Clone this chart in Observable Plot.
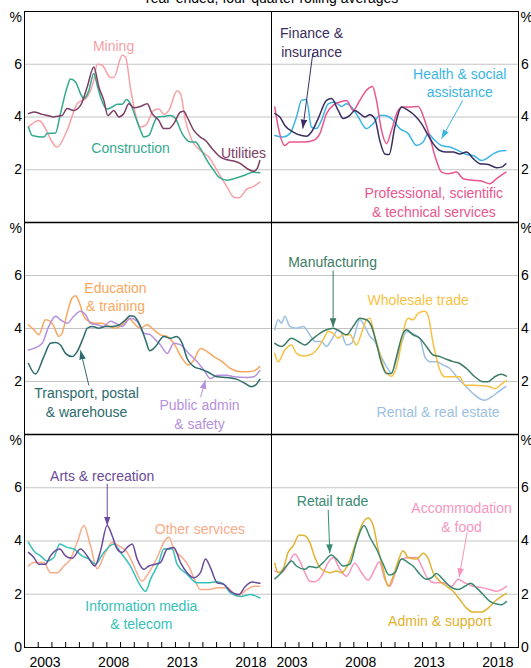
<!DOCTYPE html>
<html>
<head>
<meta charset="utf-8">
<script src="https://cdn.jsdelivr.net/npm/d3@7"></script>
<script src="https://cdn.jsdelivr.net/npm/@observablehq/plot@0.6"></script>
<style>
  html, body { margin: 0; padding: 0; background: #fff; }
  #chart { position: relative; width: 531px; height: 668px; overflow: hidden; font-family: "Liberation Sans", Arial, sans-serif; }
  #title { position: absolute; left: 0; width: 541px; top: -10px; line-height: 16px; text-align: center; font-size: 14px; color: #000; white-space: nowrap; }
  .panel { position: absolute; }
  .panel svg { overflow: visible; }
</style>
</head>
<body>
<div id="chart"><div id="title">Year-ended, four-quarter rolling averages</div></div>
<script>
// ---------- data: [year, per cent] ----------
const mining = [[2002.29,3.62],[2003.04,3.87],[2004.38,2.86],[2005.11,3.5],[2005.84,4.5],[2006.57,4.76],[2007.05,5.4],[2007.30,6.0],[2007.66,5.96],[2008.27,5.5],[2008.51,5.5],[2009.12,6.34],[2009.36,6.28],[2009.72,5.1],[2010.21,3.87],[2010.45,3.62],[2010.82,3.68],[2011.42,4.25],[2011.79,4.3],[2012.15,4.1],[2012.52,4.25],[2013.12,5.0],[2013.37,4.88],[2013.73,3.87],[2014.22,3.1],[2014.82,2.73],[2015.43,2.48],[2016.04,1.97],[2016.77,1.34],[2017.25,0.96],[2017.62,0.94],[2018.23,1.28],[2018.59,1.34],[2019.15,1.53]];
const construction = [[2002.29,3.62],[2002.56,3.3],[2003.41,3.24],[2003.65,3.37],[2004.26,3.39],[2004.62,4.13],[2005.11,5.14],[2005.35,5.44],[2005.72,5.33],[2006.08,4.89],[2006.32,4.7],[2006.69,5.0],[2007.05,5.65],[2007.30,5.2],[2007.54,4.76],[2008.02,4.3],[2008.39,4.38],[2008.75,4.48],[2009.12,4.48],[2009.43,4.66],[2009.72,4.5],[2010.09,4.0],[2010.45,3.5],[2010.70,3.24],[2011.06,3.3],[2011.42,3.75],[2011.67,4.0],[2012.27,4.03],[2012.64,4.06],[2013.00,3.94],[2013.49,3.37],[2014.10,3.05],[2014.46,3.05],[2014.82,2.8],[2015.31,2.35],[2015.80,1.97],[2016.16,1.72],[2016.77,1.6],[2017.25,1.66],[2017.98,1.78],[2018.71,1.91],[2019.15,1.89]];
const utilities = [[2002.29,4.13],[2002.68,4.19],[2003.29,4.1],[2003.65,4.06],[2004.14,4.0],[2004.38,4.03],[2004.74,4.06],[2005.11,4.32],[2005.59,4.25],[2006.08,4.44],[2006.57,5.14],[2007.05,5.9],[2007.42,5.14],[2007.78,4.63],[2008.07,4.06],[2008.51,4.25],[2008.87,4.0],[2009.24,4.13],[2009.60,4.5],[2009.97,4.35],[2010.45,4.4],[2010.94,4.5],[2011.30,4.13],[2011.79,3.87],[2012.15,3.56],[2012.52,3.56],[2012.88,3.75],[2013.37,4.19],[2013.61,4.22],[2013.85,4.0],[2014.34,3.49],[2014.82,3.24],[2015.19,3.11],[2015.68,2.8],[2016.28,2.48],[2016.77,2.38],[2017.25,2.33],[2017.74,2.23],[2018.23,2.04],[2018.71,1.94],[2018.95,2.04],[2019.15,2.35]];
const finance = [[2002.24,4.13],[2002.61,4.0],[2002.97,3.68],[2003.58,3.43],[2004.19,3.3],[2004.55,3.27],[2004.91,3.43],[2005.40,3.94],[2006.01,4.63],[2006.37,4.7],[2006.86,4.25],[2007.22,3.94],[2007.71,4.06],[2008.07,4.25],[2008.44,4.13],[2008.80,4.0],[2009.17,4.09],[2009.53,3.94],[2009.89,3.11],[2010.26,2.6],[2010.57,2.58],[2010.99,3.62],[2011.47,4.38],[2011.96,4.25],[2012.44,4.06],[2012.93,3.75],[2013.42,3.3],[2013.78,2.99],[2014.27,2.73],[2014.75,2.67],[2015.24,2.67],[2015.72,2.6],[2016.21,2.67],[2016.70,2.42],[2017.18,2.23],[2017.79,2.2],[2018.40,2.08],[2018.76,2.1],[2019.08,2.23]];
const health = [[2002.24,3.3],[2002.85,3.24],[2003.34,3.37],[2003.82,4.0],[2004.19,4.63],[2004.55,4.66],[2004.91,3.62],[2005.28,3.56],[2005.64,3.87],[2006.13,4.5],[2006.62,4.57],[2007.10,4.4],[2007.47,4.5],[2007.83,4.38],[2008.32,4.0],[2008.92,3.56],[2009.41,3.75],[2009.89,4.06],[2010.26,4.06],[2010.74,3.94],[2011.35,3.56],[2011.96,3.37],[2012.57,2.92],[2013.05,3.05],[2013.42,3.37],[2013.78,3.18],[2014.39,2.92],[2015.00,2.86],[2015.60,2.73],[2016.21,2.58],[2016.70,2.54],[2017.30,2.35],[2017.67,2.42],[2018.15,2.6],[2018.64,2.71],[2019.08,2.73]];
const professional = [[2002.24,4.38],[2002.49,3.62],[2002.97,2.92],[2003.34,3.05],[2003.82,3.05],[2004.31,3.05],[2005.04,3.11],[2005.52,3.37],[2006.01,4.13],[2006.49,4.44],[2006.98,4.57],[2007.47,4.63],[2007.95,4.25],[2008.44,4.63],[2008.92,5.01],[2009.36,5.16],[2009.65,4.63],[2010.02,3.49],[2010.38,2.99],[2010.74,3.49],[2011.23,4.25],[2011.59,4.38],[2012.08,4.38],[2012.69,4.4],[2013.17,3.87],[2013.54,3.24],[2013.90,2.54],[2014.39,1.91],[2014.87,1.85],[2015.48,1.91],[2015.97,1.66],[2016.70,1.6],[2017.30,1.57],[2017.91,1.47],[2018.40,1.66],[2019.08,1.91]];
const education = [[2002.29,4.14],[2002.68,3.95],[2003.04,3.76],[2003.53,4.33],[2003.89,4.27],[2004.14,4.08],[2004.50,3.7],[2004.74,3.82],[2005.11,4.58],[2005.47,5.15],[2005.72,5.24],[2005.96,5.03],[2006.32,4.46],[2006.69,4.27],[2007.17,4.2],[2007.66,4.2],[2008.15,4.08],[2008.63,4.01],[2009.12,4.14],[2009.60,4.39],[2009.97,4.2],[2010.45,4.01],[2010.94,4.14],[2011.42,3.95],[2011.91,3.76],[2012.40,3.7],[2012.88,3.44],[2013.49,2.87],[2013.97,2.62],[2014.34,2.81],[2014.82,3.25],[2015.31,3.13],[2015.80,2.94],[2016.40,2.75],[2017.01,2.49],[2017.74,2.37],[2018.35,2.37],[2018.83,2.43],[2019.15,2.56]];
const publicAdmin = [[2002.29,3.19],[2002.68,3.25],[2003.29,3.44],[2003.77,4.08],[2004.26,4.46],[2004.62,4.33],[2005.11,4.2],[2005.59,4.46],[2006.08,4.65],[2006.45,4.52],[2006.81,4.2],[2007.30,4.14],[2007.78,4.08],[2008.27,4.27],[2008.63,4.2],[2009.12,4.08],[2009.72,4.39],[2010.21,4.27],[2010.70,3.82],[2011.18,3.76],[2011.55,3.57],[2011.91,3.38],[2012.40,3.06],[2012.88,3.44],[2013.37,3.38],[2013.97,3.06],[2014.58,2.75],[2015.07,2.43],[2015.55,2.11],[2016.04,2.24],[2016.77,2.24],[2017.25,2.18],[2018.23,2.15],[2018.71,2.18],[2019.15,2.41]];
const transport = [[2002.29,2.68],[2002.80,2.28],[2003.41,2.94],[2003.89,3.44],[2004.26,3.47],[2004.62,3.38],[2004.99,3.06],[2005.47,2.94],[2005.84,3.13],[2006.32,3.7],[2006.57,4.01],[2006.93,4.08],[2007.42,4.01],[2007.90,4.08],[2008.39,4.08],[2008.75,4.1],[2009.24,4.27],[2009.72,4.48],[2009.97,4.46],[2010.45,4.08],[2010.82,3.57],[2011.13,3.16],[2011.55,3.32],[2012.15,3.7],[2012.64,3.63],[2013.08,3.7],[2013.49,3.44],[2013.85,2.87],[2014.34,2.56],[2014.82,2.47],[2015.31,2.37],[2016.04,2.18],[2016.77,2.15],[2017.50,2.08],[2018.10,1.92],[2018.52,1.8],[2018.83,1.86],[2019.15,2.08]];
const manufacturing = [[2002.24,3.44],[2002.73,3.32],[2003.46,3.63],[2003.94,3.51],[2004.43,3.38],[2004.91,3.57],[2005.52,3.82],[2006.01,3.95],[2006.49,4.01],[2006.98,3.89],[2007.47,3.76],[2007.95,4.08],[2008.44,4.39],[2008.92,4.33],[2009.29,4.08],[2009.65,3.44],[2010.02,2.68],[2010.38,2.3],[2010.74,2.3],[2011.11,2.94],[2011.59,3.82],[2011.84,3.95],[2012.32,3.76],[2012.81,3.63],[2013.29,3.32],[2013.78,3.0],[2014.27,2.94],[2014.75,2.84],[2015.24,2.75],[2015.72,2.68],[2016.21,2.49],[2016.82,2.18],[2017.42,1.99],[2017.79,1.99],[2018.27,2.18],[2018.76,2.27],[2019.12,2.2]];
const wholesale = [[2002.24,3.06],[2002.49,2.75],[2002.97,3.19],[2003.46,3.38],[2003.82,3.06],[2004.31,2.96],[2004.79,3.0],[2005.28,3.19],[2005.76,3.57],[2006.13,3.89],[2006.49,3.82],[2006.86,3.63],[2007.22,3.76],[2007.71,3.76],[2008.19,3.38],[2008.56,3.82],[2008.92,4.33],[2009.17,4.39],[2009.53,3.7],[2009.89,3.06],[2010.26,2.43],[2010.74,2.2],[2011.11,2.56],[2011.47,3.44],[2011.72,4.14],[2011.96,4.39],[2012.32,4.33],[2012.69,4.58],[2013.17,4.65],[2013.42,4.46],[2013.78,3.44],[2014.27,2.43],[2014.63,2.18],[2015.12,2.18],[2015.72,2.18],[2016.09,1.86],[2016.70,1.86],[2017.42,1.84],[2017.91,1.8],[2018.27,1.73],[2018.76,1.9],[2019.12,2.03]];
const rental = [[2002.24,3.95],[2002.49,4.33],[2002.73,4.2],[2002.97,4.46],[2003.34,4.08],[2003.82,4.01],[2004.31,4.08],[2004.79,3.76],[2005.16,3.51],[2005.64,3.51],[2006.01,3.32],[2006.37,3.57],[2006.86,3.95],[2007.10,3.82],[2007.47,3.38],[2007.83,3.44],[2008.44,4.33],[2008.80,4.08],[2009.17,3.7],[2009.53,3.51],[2009.89,3.06],[2010.38,2.56],[2010.74,2.33],[2011.11,2.81],[2011.47,3.44],[2011.84,3.89],[2012.20,3.82],[2012.81,3.63],[2013.17,2.94],[2013.54,2.75],[2014.02,2.75],[2014.51,2.62],[2015.00,2.49],[2015.60,2.11],[2016.09,1.86],[2016.70,1.54],[2017.18,1.35],[2017.55,1.29],[2018.03,1.42],[2018.52,1.61],[2019.08,1.82]];
const arts = [[2002.29,3.57],[2002.68,3.38],[2003.04,3.13],[2003.53,3.13],[2003.89,3.44],[2004.57,3.7],[2004.99,3.44],[2005.47,3.35],[2006.08,3.7],[2006.57,3.44],[2007.13,3.06],[2007.54,3.63],[2008.02,4.58],[2008.39,4.2],[2008.75,3.7],[2009.12,3.57],[2009.48,3.76],[2009.85,3.89],[2010.21,3.32],[2010.70,2.94],[2011.06,3.06],[2011.55,3.13],[2011.91,3.19],[2012.40,3.7],[2012.88,3.76],[2013.37,3.19],[2013.85,2.81],[2014.34,2.62],[2014.82,2.81],[2015.19,3.32],[2015.55,3.0],[2016.04,2.43],[2016.53,2.37],[2017.01,2.11],[2017.62,1.99],[2018.10,2.3],[2018.59,2.46],[2019.15,2.41]];
const otherServices = [[2002.29,3.06],[2002.68,3.19],[2003.41,3.19],[2003.89,2.81],[2004.38,2.81],[2004.87,3.06],[2005.35,3.32],[2005.84,3.95],[2006.32,4.58],[2006.81,3.82],[2007.30,2.96],[2007.90,3.57],[2008.39,3.95],[2008.87,3.82],[2009.48,3.57],[2009.97,3.06],[2010.57,2.49],[2011.06,2.81],[2011.67,3.38],[2012.15,3.95],[2012.52,4.14],[2012.88,3.7],[2013.49,3.38],[2013.97,3.06],[2014.34,2.62],[2014.82,2.18],[2015.43,2.18],[2016.04,2.24],[2016.77,2.24],[2017.50,1.92],[2018.23,2.18],[2018.71,2.3],[2019.15,2.3]];
const infoMedia = [[2002.29,3.95],[2002.68,3.63],[2003.17,3.44],[2003.65,3.25],[2004.14,3.38],[2004.57,3.89],[2005.11,3.76],[2005.59,3.7],[2006.20,3.44],[2006.69,3.32],[2007.17,3.13],[2007.78,3.57],[2008.51,3.89],[2009.00,3.57],[2009.72,3.06],[2010.33,2.43],[2010.82,2.11],[2011.18,2.56],[2011.79,3.19],[2012.15,3.7],[2012.76,3.7],[2013.12,3.13],[2013.85,2.75],[2014.58,2.43],[2015.31,2.43],[2016.04,2.47],[2016.53,2.37],[2017.01,2.05],[2017.74,1.92],[2018.47,1.99],[2019.15,1.86]];
const retail = [[2002.24,2.58],[2002.61,2.75],[2003.09,3.06],[2003.46,3.25],[2003.82,3.06],[2004.43,2.94],[2004.79,3.04],[2005.28,3.0],[2005.76,3.19],[2006.37,3.47],[2006.74,3.32],[2007.22,3.06],[2007.71,3.13],[2008.19,3.95],[2008.75,4.58],[2009.17,4.14],[2009.65,3.7],[2010.14,3.13],[2010.57,2.72],[2010.99,2.81],[2011.47,3.32],[2011.96,3.19],[2012.32,3.06],[2012.81,2.75],[2013.29,2.56],[2013.66,2.62],[2014.02,2.78],[2014.39,2.62],[2015.00,2.3],[2015.60,2.18],[2016.09,2.3],[2016.50,2.41],[2016.94,2.24],[2017.42,1.99],[2017.91,1.73],[2018.40,1.63],[2018.76,1.61],[2019.12,1.73]];
const adminSupport = [[2002.24,3.16],[2002.49,2.81],[2002.85,2.96],[2003.21,3.57],[2003.58,3.82],[2004.02,4.23],[2004.43,4.2],[2004.79,3.95],[2005.16,3.38],[2005.64,2.94],[2006.25,2.81],[2006.74,2.87],[2007.10,2.81],[2007.59,3.13],[2008.07,3.82],[2008.56,4.58],[2009.04,4.86],[2009.41,4.58],[2009.77,3.7],[2010.14,2.94],[2010.50,2.3],[2010.87,2.68],[2011.23,3.25],[2011.59,3.63],[2011.96,3.38],[2012.57,3.32],[2013.05,3.54],[2013.42,3.34],[2013.78,2.81],[2014.27,2.49],[2014.75,2.3],[2015.24,2.11],[2015.72,1.8],[2016.21,1.48],[2016.70,1.33],[2017.30,1.33],[2017.79,1.48],[2018.27,1.73],[2018.76,1.92],[2019.12,2.03]];
const accommodation = [[2002.24,2.87],[2002.73,2.81],[2003.21,3.13],[2003.70,3.51],[2004.06,3.25],[2004.43,2.81],[2004.79,2.49],[2005.16,2.47],[2005.64,2.68],[2006.13,3.19],[2006.49,3.38],[2006.98,2.94],[2007.47,2.68],[2008.07,3.16],[2008.56,2.81],[2009.04,2.53],[2009.53,2.94],[2009.85,3.22],[2010.26,2.56],[2010.62,2.3],[2011.11,2.94],[2011.47,3.32],[2012.08,3.38],[2012.57,3.38],[2012.93,3.06],[2013.42,2.56],[2013.90,2.43],[2014.51,2.43],[2015.12,2.3],[2015.60,2.56],[2016.09,2.43],[2016.70,2.3],[2017.42,2.24],[2017.91,2.18],[2018.40,2.11],[2018.76,2.18],[2019.12,2.3]];

// series per panel (left-to-right, top-to-bottom)
const panelSeries = [
  [["Mining", mining], ["Construction", construction], ["Utilities", utilities]],
  [["Health & social assistance", health], ["Professional, scientific & technical services", professional], ["Finance & insurance", finance]],
  [["Education & training", education], ["Public admin & safety", publicAdmin], ["Transport, postal & warehouse", transport]],
  [["Rental & real estate", rental], ["Wholesale trade", wholesale], ["Manufacturing", manufacturing]],
  [["Other services", otherServices], ["Information media & telecom", infoMedia], ["Arts & recreation", arts]],
  [["Accommodation & food", accommodation], ["Admin & support", adminSupport], ["Retail trade", retail]]
];

// colours (styles kept apart from data)
const palette = new Map([
  ["Mining", "#f7a1a6"], ["Construction", "#33a98e"], ["Utilities", "#7d3e66"],
  ["Finance & insurance", "#3a2d60"], ["Health & social assistance", "#3cb5e6"], ["Professional, scientific & technical services", "#e9568e"],
  ["Education & training", "#f9a760"], ["Transport, postal & warehouse", "#2c6b6c"], ["Public admin & safety", "#b591dd"],
  ["Manufacturing", "#3d7b62"], ["Wholesale trade", "#f7c244"], ["Rental & real estate", "#9dbfe3"],
  ["Arts & recreation", "#6a4b9b"], ["Other services", "#f9ab88"], ["Information media & telecom", "#36c1b7"],
  ["Retail trade", "#3a8a73"], ["Accommodation & food", "#f895bf"], ["Admin & support", "#e1b22f"]
]);

// annotation labels (data coordinates)
const labels = [
  {panel: 0, series: "Mining", text: "Mining", t: 2008.49, v: 6.71},
  {panel: 0, series: "Construction", text: "Construction", t: 2009.73, v: 2.88},
  {panel: 0, series: "Utilities", text: "Utilities", t: 2017.96, v: 2.69},
  {panel: 1, series: "Finance & insurance", text: "Finance &\ninsurance", t: 2004.92, v: 6.87},
  {panel: 1, series: "Health & social assistance", text: "Health & social\nassistance", t: 2015.72, v: 5.32},
  {panel: 1, series: "Professional, scientific & technical services", text: "Professional, scientific\n& technical services", t: 2013.83, v: 0.79},
  {panel: 2, series: "Education & training", text: "Education\n& training", t: 2008.63, v: 5.23},
  {panel: 2, series: "Transport, postal & warehouse", text: "Transport, postal\n& warehouse", t: 2006.52, v: 1.24},
  {panel: 2, series: "Public admin & safety", text: "Public admin\n& safety", t: 2014.75, v: 0.78},
  {panel: 3, series: "Manufacturing", text: "Manufacturing", t: 2006.45, v: 6.54},
  {panel: 3, series: "Wholesale trade", text: "Wholesale trade", t: 2012.69, v: 5.12},
  {panel: 3, series: "Rental & real estate", text: "Rental & real estate", t: 2014.14, v: 0.87},
  {panel: 4, series: "Arts & recreation", text: "Arts & recreation", t: 2007.66, v: 6.46},
  {panel: 4, series: "Other services", text: "Other services", t: 2014.78, v: 4.48},
  {panel: 4, series: "Information media & telecom", text: "Information media\n& telecom", t: 2010.51, v: 1.25},
  {panel: 5, series: "Retail trade", text: "Retail trade", t: 2006.45, v: 5.52},
  {panel: 5, series: "Accommodation & food", text: "Accommodation\n& food", t: 2015.85, v: 4.91},
  {panel: 5, series: "Admin & support", text: "Admin & support", t: 2014.27, v: 1.05}
];

// pointer arrows (data coordinates)
const arrows = [
  {panel: 1, series: "Finance & insurance", t1: 2005.01, v1: 6.41, t2: 2004.28, v2: 3.56},
  {panel: 1, series: "Health & social assistance", t1: 2015.94, v1: 4.63, t2: 2014.39, v2: 3.18},
  {panel: 2, series: "Transport, postal & warehouse", t1: 2006.69, v1: 1.85, t2: 2006.08, v2: 3.17},
  {panel: 2, series: "Public admin & safety", t1: 2014.83, v1: 1.41, t2: 2015.19, v2: 2.06},
  {panel: 3, series: "Manufacturing", t1: 2006.49, v1: 6.19, t2: 2006.49, v2: 4.05},
  {panel: 4, series: "Arts & recreation", t1: 2008.03, v1: 6.15, t2: 2008.03, v2: 4.58},
  {panel: 5, series: "Retail trade", t1: 2006.13, v1: 5.17, t2: 2006.25, v2: 3.54},
  {panel: 5, series: "Accommodation & food", t1: 2016.26, v1: 4.33, t2: 2015.67, v2: 2.64}
];

const gridValues = [2, 4, 6];
const yTicksTop = [2, 4, 6];
const yTicksBottom = [0, 2, 4, 6];
const tickYears = d3.range(2003, 2020);
const yearLabels = [2003, 2008, 2013, 2018];

// ---------- layout ----------
const rowTops = [11, 222, 434];
const rowHeights = [211, 212, 213];
const colLefts = [0, 271];
const FONT = '"Liberation Sans", Arial, sans-serif';
let markerId = 0;

function addArrowHeads(svg) {
  const ns = "http://www.w3.org/2000/svg";
  const defs = document.createElementNS(ns, "defs");
  svg.insertBefore(defs, svg.firstChild);
  svg.querySelectorAll('g[aria-label="link"]').forEach((g) => {
    const color = g.getAttribute("stroke");
    const id = "ah" + (markerId++);
    const m = document.createElementNS(ns, "marker");
    m.setAttribute("id", id);
    m.setAttribute("viewBox", "0 -3.5 9 7");
    m.setAttribute("refX", "9");
    m.setAttribute("refY", "0");
    m.setAttribute("markerUnits", "userSpaceOnUse");
    m.setAttribute("markerWidth", "9");
    m.setAttribute("markerHeight", "7");
    m.setAttribute("orient", "auto");
    const p = document.createElementNS(ns, "path");
    p.setAttribute("d", "M0,-3.3L9,0L0,3.3Z");
    p.setAttribute("fill", color);
    m.appendChild(p);
    defs.appendChild(m);
    g.querySelectorAll("path").forEach((path) => path.setAttribute("marker-end", `url(#${id})`));
  });
}

const chart = document.getElementById("chart");

panelSeries.forEach((series, i) => {
  const row = Math.floor(i / 2), col = i % 2;
  const isLeft = col === 0, isBottom = row === 2;
  const h = rowHeights[row];
  const mb = isBottom ? 21 : 0;
  const marks = [];
  marks.push(Plot.ruleY(gridValues, {y: d => d, stroke: "#c4c4c4", strokeWidth: 1.2}));
  series.forEach(([name, data]) => {
    marks.push(Plot.line(data, {x: d => d[0], y: d => d[1], stroke: palette.get(name), strokeWidth: 1.5, curve: "monotone-x"}));
  });
  marks.push(Plot.frame({stroke: "#000", strokeWidth: 1}));
  if (!isBottom) marks.push(Plot.ruleY([0], {y: d => d, stroke: "#000", strokeWidth: 1.7}));
  marks.push(Plot.axisY({
    anchor: isLeft ? "left" : "right",
    ticks: isBottom ? yTicksBottom : yTicksTop,
    tickSize: 0, tickPadding: 2.5, fontSize: 14, label: null,
    tickFormat: d => String(d)
  }));
  marks.push(Plot.text(["%"], {
    text: d => d, frameAnchor: isLeft ? "top-left" : "top-right",
    dx: isLeft ? -2.5 : 2, dy: 1, textAnchor: isLeft ? "end" : "start",
    lineAnchor: "top", fontSize: 14, fill: "#000"
  }));
  if (isBottom) {
    marks.push(Plot.ruleX(tickYears, {x: d => d, insetTop: h - 5, stroke: "#000", strokeWidth: 1}));
    marks.push(Plot.text(yearLabels, {x: d => d + 0.5, text: d => String(d), frameAnchor: "bottom", dy: 15, lineAnchor: "middle", fontSize: 14, fill: "#000"}));
  }
  labels.filter(d => d.panel === i).forEach(d => {
    marks.push(Plot.text([d], {x: "t", y: "v", text: "text", fill: palette.get(d.series), fontSize: 14, lineHeight: 1.33, textAnchor: "middle", lineAnchor: "middle"}));
  });
  arrows.filter(d => d.panel === i).forEach(d => {
    marks.push(Plot.link([d], {x1: "t1", y1: "v1", x2: "t2", y2: "v2", stroke: palette.get(d.series), strokeWidth: 1}));
  });

  const svg = Plot.plot({
    width: isLeft ? 271 : 260,
    height: h + mb,
    marginLeft: isLeft ? 24 : 0,
    marginRight: isLeft ? 0 : 13,
    marginTop: 0,
    marginBottom: mb,
    x: {domain: [2002, 2020], axis: null},
    y: {domain: [0, 8]},
    style: {fontFamily: FONT, fontSize: "14px", overflow: "visible", background: "none", color: "#000"},
    marks
  });
  addArrowHeads(svg);
  const div = document.createElement("div");
  div.className = "panel";
  div.style.left = colLefts[col] + "px";
  div.style.top = rowTops[row] + "px";
  div.appendChild(svg);
  chart.appendChild(div);
});
</script>
</body>
</html>
